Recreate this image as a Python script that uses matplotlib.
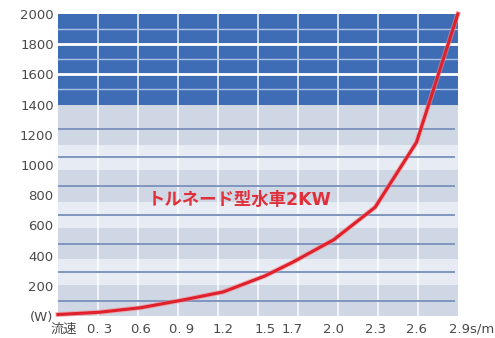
import numpy as np
import matplotlib
matplotlib.use("Agg")
import matplotlib.pyplot as plt
import matplotlib.patheffects as pe
from matplotlib.transforms import ScaledTranslation

plt.rcParams['font.family'] = ['DejaVu Sans', 'Noto Sans CJK JP']

# flow speed (m/s) vs output (W)
speed = [0.0, 0.3, 0.6, 0.9, 1.2, 1.5, 1.7, 2.0, 2.3, 2.6, 2.9]
watts = [10, 25, 55, 105, 160, 265, 355, 505, 720, 1150, 2000]

x_labels = ['流速', '0. 3', '0.6', '0. 9', '1.2', '1.5', '1.7', '2.0', '2.3', '2.6', '2.9s/m']
y_ticks = [0, 200, 400, 600, 800, 1000, 1200, 1400, 1600, 1800, 2000]
y_labels = ['(W)', '200', '400', '600', '800', '1000', '1200', '1400', '1600', '1800', '2000']

series_name = 'トルネード型水車2KW'

fig = plt.figure(figsize=(4.95, 3.38), dpi=100)
ax = fig.add_axes([0.117, 0.065, 0.808, 0.894])
ax.set_xlim(0, 2.9)
ax.set_ylim(0, 2000)

# background: light striped lower part, solid blue upper part
ax.axhspan(0, 1400, color='#e7ecf4', lw=0, zorder=0)
grid_w = np.arange(100, 1400, 190)
for lvl in grid_w[::2]:
    top = 1400 if lvl + 200 > 1400 else lvl + 105
    ax.axhspan(max(lvl - 105, 0), top, color='#cfd7e5', lw=0, zorder=0)
ax.axhspan(1400, 2000, color='#3f6db5', lw=0, zorder=0)

# vertical column lines
for xv in np.linspace(0, 2.9, 11)[1:-1]:
    ax.axvline(xv, color='white', lw=1.2, alpha=0.85, zorder=1)

# horizontal lines
for lvl in grid_w:
    ax.axhline(lvl, xmax=0.99, color='#7f96be', lw=1.4, zorder=2)
upper = np.linspace(1400, 2000, 7)[1:-1]
for i, lvl in enumerate(upper):
    if i % 2:
        ax.axhline(lvl, color='white', lw=2.0, zorder=2)
    else:
        ax.axhline(lvl, color='#a9c1e4', lw=1.0, zorder=2)

ax.plot(speed, watts, color='#e0202a', lw=2.2, zorder=5, clip_on=False,
        solid_joinstyle='round',
        path_effects=[pe.Stroke(linewidth=3.6, foreground='#f08a90', alpha=0.6), pe.Normal()])

ax.text(1.32, 770, series_name, color='#e0303a', fontsize=12.5, fontweight='bold',
        ha='center', va='center', zorder=6)

ax.set_xticks(speed)
ax.set_xticklabels(x_labels, fontsize=9.5, color='#4a4a4a')
ax.set_yticks(y_ticks)
ax.set_yticklabels(y_labels, fontsize=9.5, color='#4a4a4a')
ax.tick_params(length=0, pad=3)
ax.tick_params(axis='x', pad=5)
for s in ax.spines.values():
    s.set_visible(False)

# nudge the end labels of the speed axis
xl = ax.get_xticklabels()
xl[0].set_transform(xl[0].get_transform() + ScaledTranslation(6 / 100, 0, fig.dpi_scale_trans))
xl[-1].set_transform(xl[-1].get_transform() + ScaledTranslation(14 / 100, 0, fig.dpi_scale_trans))

fig.savefig('out.png', dpi=100)
